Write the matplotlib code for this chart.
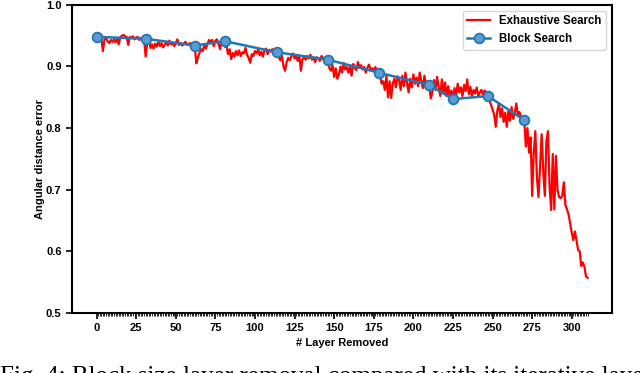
import numpy as np
import matplotlib
matplotlib.use("Agg")
import matplotlib.pyplot as plt

plt.rcParams['font.family'] = ['Liberation Sans', 'DejaVu Sans']
plt.rcParams['font.weight'] = 'bold'

# exhaustive search, one value per removed layer (0..310)
exhaustive = [
    0.948, 0.947, 0.945, 0.946, 0.925, 0.944, 0.946, 0.941, 0.938, 0.943,
    0.940, 0.944, 0.939, 0.946, 0.936, 0.947, 0.950, 0.951, 0.949, 0.948,
    0.935, 0.948, 0.946, 0.949, 0.944, 0.947, 0.948, 0.943, 0.946, 0.945,
    0.944, 0.916, 0.938, 0.944, 0.930, 0.936, 0.929, 0.937, 0.932, 0.940,
    0.933, 0.938, 0.931, 0.935, 0.940, 0.934, 0.942, 0.936, 0.938, 0.933,
    0.937, 0.944, 0.935, 0.938, 0.934, 0.936, 0.940, 0.937, 0.935, 0.938,
    0.936, 0.934, 0.933, 0.905, 0.915, 0.922, 0.928, 0.925, 0.934, 0.929,
    0.936, 0.943, 0.940, 0.943, 0.933, 0.942, 0.944, 0.937, 0.928, 0.940,
    0.941, 0.932, 0.934, 0.920, 0.928, 0.912, 0.922, 0.916, 0.925, 0.918,
    0.926, 0.917, 0.923, 0.921, 0.930, 0.919, 0.914, 0.906, 0.920, 0.917,
    0.925, 0.921, 0.928, 0.918, 0.924, 0.916, 0.926, 0.929, 0.920, 0.927,
    0.924, 0.928, 0.925, 0.923, 0.922, 0.915, 0.910, 0.918, 0.900, 0.893,
    0.907, 0.914, 0.910, 0.917, 0.921, 0.913, 0.917, 0.909, 0.918, 0.893,
    0.912, 0.915, 0.911, 0.917, 0.913, 0.919, 0.911, 0.915, 0.907, 0.915,
    0.913, 0.909, 0.917, 0.914, 0.908, 0.912, 0.911, 0.897, 0.893, 0.902,
    0.883, 0.897, 0.880, 0.887, 0.900, 0.890, 0.906, 0.895, 0.899, 0.890,
    0.900, 0.885, 0.904, 0.898, 0.894, 0.907, 0.900, 0.902, 0.895, 0.899,
    0.890, 0.898, 0.903, 0.895, 0.897, 0.893, 0.899, 0.894, 0.890, 0.886,
    0.872, 0.876, 0.862, 0.885, 0.850, 0.876, 0.849, 0.872, 0.880, 0.866,
    0.884, 0.877, 0.862, 0.885, 0.868, 0.890, 0.873, 0.858, 0.880, 0.866,
    0.887, 0.872, 0.882, 0.868, 0.890, 0.877, 0.865, 0.885, 0.870, 0.874,
    0.869, 0.848, 0.858, 0.878, 0.862, 0.883, 0.866, 0.852, 0.879, 0.856,
    0.874, 0.852, 0.868, 0.849, 0.861, 0.848, 0.865, 0.852, 0.872, 0.858,
    0.866, 0.852, 0.870, 0.860, 0.879, 0.855, 0.867, 0.850, 0.862, 0.856,
    0.866, 0.852, 0.858, 0.862, 0.854, 0.861, 0.857, 0.852, 0.845, 0.838,
    0.830, 0.822, 0.802, 0.828, 0.840, 0.818, 0.832, 0.810, 0.825, 0.802,
    0.828, 0.812, 0.834, 0.815, 0.825, 0.840, 0.820, 0.826, 0.818, 0.810,
    0.813, 0.770, 0.800, 0.760, 0.785, 0.690, 0.760, 0.795, 0.720, 0.688,
    0.740, 0.790, 0.730, 0.690, 0.780, 0.795, 0.705, 0.667, 0.758, 0.668,
    0.755, 0.700, 0.688, 0.686, 0.690, 0.712, 0.675, 0.668, 0.660, 0.645,
    0.630, 0.618, 0.632, 0.618, 0.602, 0.600, 0.576, 0.582, 0.575, 0.559,
    0.557,
]
layers = np.arange(len(exhaustive))

# block search checkpoints
block_x = [0, 31, 62, 81, 114, 146, 178, 210, 225, 247, 270]
block_y = [0.948, 0.945, 0.934, 0.941, 0.923, 0.911, 0.890, 0.870, 0.847, 0.852, 0.813]

caption = "Fig. 4: Block size layer removal compared with its iterative layer-wise version"

fig = plt.figure(figsize=(6.4, 3.73), dpi=100)
ax = fig.add_axes([0.1125, 0.161, 0.844, 0.826])

ax.plot(layers, exhaustive, color='red', lw=1.6, label='Exhaustive Search')
ax.plot(block_x, block_y, color='#1f77b4', lw=1.8, marker='o', ms=7,
        mfc='#5b9bd1', mec='#1f77b4', mew=1.3, label='Block Search')

ax.set_xlim(-15.5, 325.5)
ax.set_ylim(0.5, 1.0)
ax.set_xticks(np.arange(0, 301, 25))
ax.set_xticks(layers, minor=True)
ax.tick_params(axis='x', which='minor', length=2, width=0.6)
ax.tick_params(axis='both', which='major', labelsize=8, width=1.2, length=4)
for lbl in ax.get_xticklabels() + ax.get_yticklabels():
    lbl.set_fontweight('bold')
for s in ax.spines.values():
    s.set_linewidth(1.5)

ax.set_xlabel('# Layer Removed', fontsize=8, fontweight='bold', labelpad=3)
ax.set_ylabel('Angular distance error', fontsize=8, fontweight='bold', labelpad=1)

leg = ax.legend(loc='upper right', fontsize=8.3, frameon=True)
for t in leg.get_texts():
    t.set_fontweight('bold')

# caption sits at the bottom edge, partly cut off as in the source
fig.text(0.0, 0.02, caption, fontsize=18, va='top', ha='left',
         family=['Liberation Serif', 'DejaVu Serif'], fontweight='normal')

fig.savefig('out.png', dpi=100)
